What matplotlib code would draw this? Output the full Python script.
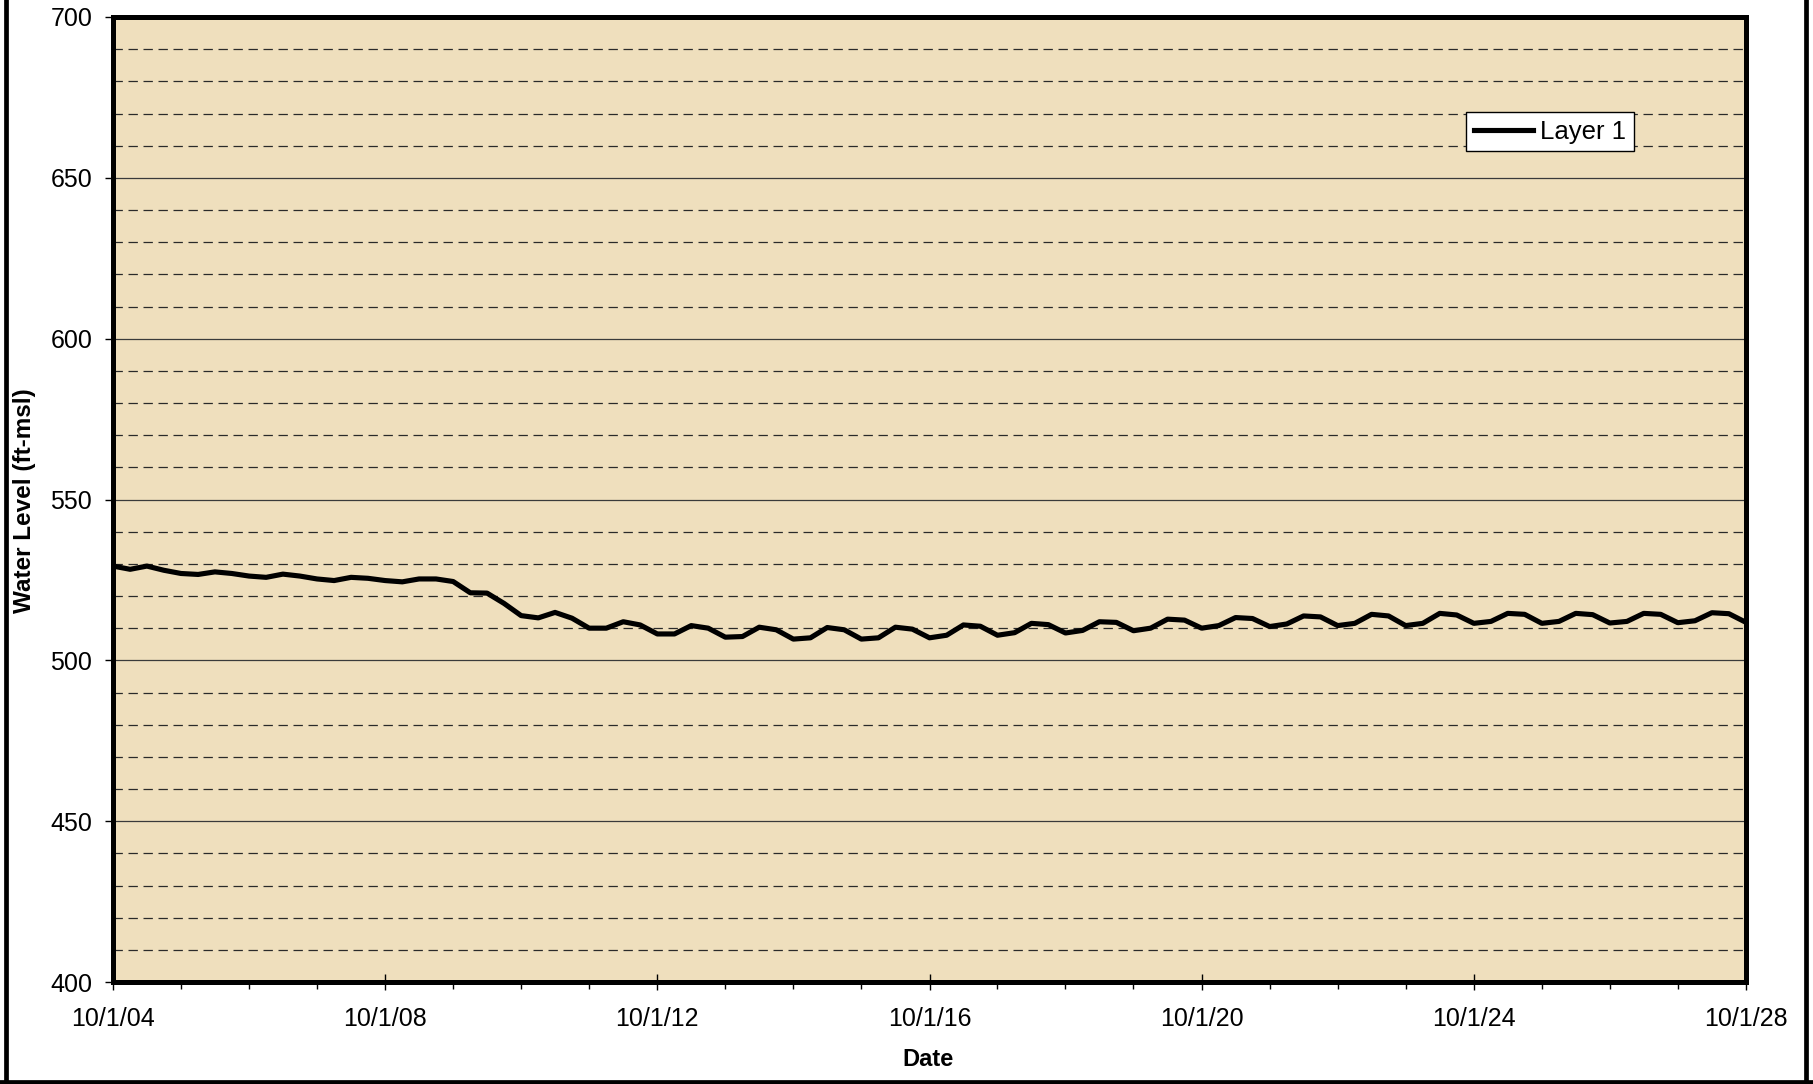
import matplotlib.pyplot as plt
import matplotlib.dates as mdates
from matplotlib.ticker import MultipleLocator, FuncFormatter
from matplotlib.lines import Line2D
import pandas as pd

plt.rcParams['font.family'] = ['Liberation Sans', 'DejaVu Sans']

# Layer 1 water level (ft-msl), quarterly from 10/1/2004 to 10/1/2028
layer1 = [529.3, 528.3, 529.3, 528.0, 527.0, 526.7, 527.5, 527.0,
          526.2, 525.8, 526.8, 526.2, 525.3, 524.8, 525.8, 525.5,
          524.8, 524.4, 525.3, 525.3, 524.5, 521.0, 520.9, 517.7,
          513.9, 513.2, 514.9, 513.1, 510.0, 510.0, 512.0, 511.0,
          508.2, 508.2, 510.8, 510.0, 507.2, 507.4, 510.3, 509.5,
          506.6, 507.0, 510.2, 509.5, 506.6, 507.0, 510.3, 509.7,
          507.0, 507.8, 511.0, 510.6, 507.8, 508.6, 511.5, 511.1,
          508.5, 509.3, 512.0, 511.8, 509.2, 510.0, 512.8, 512.5,
          510.0, 510.8, 513.3, 513.0, 510.5, 511.3, 513.8, 513.5,
          510.8, 511.5, 514.3, 513.8, 510.8, 511.5, 514.6, 514.1,
          511.5, 512.1, 514.6, 514.3, 511.5, 512.1, 514.6, 514.2,
          511.6, 512.1, 514.6, 514.3, 511.7, 512.3, 514.8, 514.5,
          511.8]
dates = pd.date_range('2004-10-01', periods=len(layer1), freq='QS-OCT')

fig = plt.figure(figsize=(18.13, 10.84), dpi=100)
ax = fig.add_axes([113 / 1813, 1 - 982 / 1084, 1633 / 1813, 965 / 1084])
ax.set_facecolor('#efdfbd')

ax.plot(dates, layer1, color='black', lw=3.7, label='Layer 1', zorder=3)

ax.set_ylim(400, 700)
ax.set_xlim(dates[0], dates[-1])

ax.yaxis.set_major_locator(MultipleLocator(50))
ax.yaxis.set_minor_locator(MultipleLocator(10))
ax.grid(which='major', axis='y', color='#3a3a3a', lw=0.9, ls='-')
ax.grid(which='minor', axis='y', color='#2a2a2a', lw=0.9, ls=(0, (7.5, 4.5)))
ax.set_axisbelow(True)

ax.xaxis.set_major_locator(mdates.YearLocator(4, month=10, day=1))
ax.xaxis.set_minor_locator(mdates.YearLocator(1, month=10, day=1))
ax.xaxis.set_major_formatter(FuncFormatter(
    lambda v, p: (lambda d: f"{d.month}/{d.day}/{d:%y}")(mdates.num2date(v))))

ax.tick_params(axis='y', which='major', direction='out', length=6, width=1,
               labelsize=18, pad=9)
ax.tick_params(axis='y', which='minor', length=0)
ax.tick_params(axis='x', which='major', direction='inout', length=12, width=1,
               labelsize=18, pad=12)
ax.tick_params(axis='x', which='minor', direction='out', length=5, width=1)

for s in ax.spines.values():
    s.set_linewidth(3.6)
    s.set_color('black')

fig.text(25 / 1813, 1 - 501 / 1084, 'Water Level (ft-msl)', rotation=90,
         fontsize=17.5, fontweight='bold', ha='center', va='center')
fig.text(928 / 1813, 1 - 1059 / 1084, 'Date', fontsize=17,
         fontweight='bold', ha='center', va='center')

leg = ax.legend(loc='upper left', bbox_to_anchor=(0.8285, 0.9016), fontsize=18.5,
                fancybox=False, framealpha=1, edgecolor='black',
                handlelength=2.3, handletextpad=0.3, borderpad=0.3,
                borderaxespad=0)
leg.get_frame().set_linewidth(1)

# outer chart frame (left, bottom, right; top is cut off)
for xs, ys in [((5.5, 5.5), (1084, -5)), ((0, 1813), (2.5, 2.5)),
               ((1805.5, 1805.5), (1084, -5))]:
    fig.add_artist(Line2D([x / 1813 for x in xs], [y / 1084 for y in ys],
                          color='black', lw=3.4, transform=fig.transFigure))

fig.savefig('out.png', dpi=100, facecolor='white')
